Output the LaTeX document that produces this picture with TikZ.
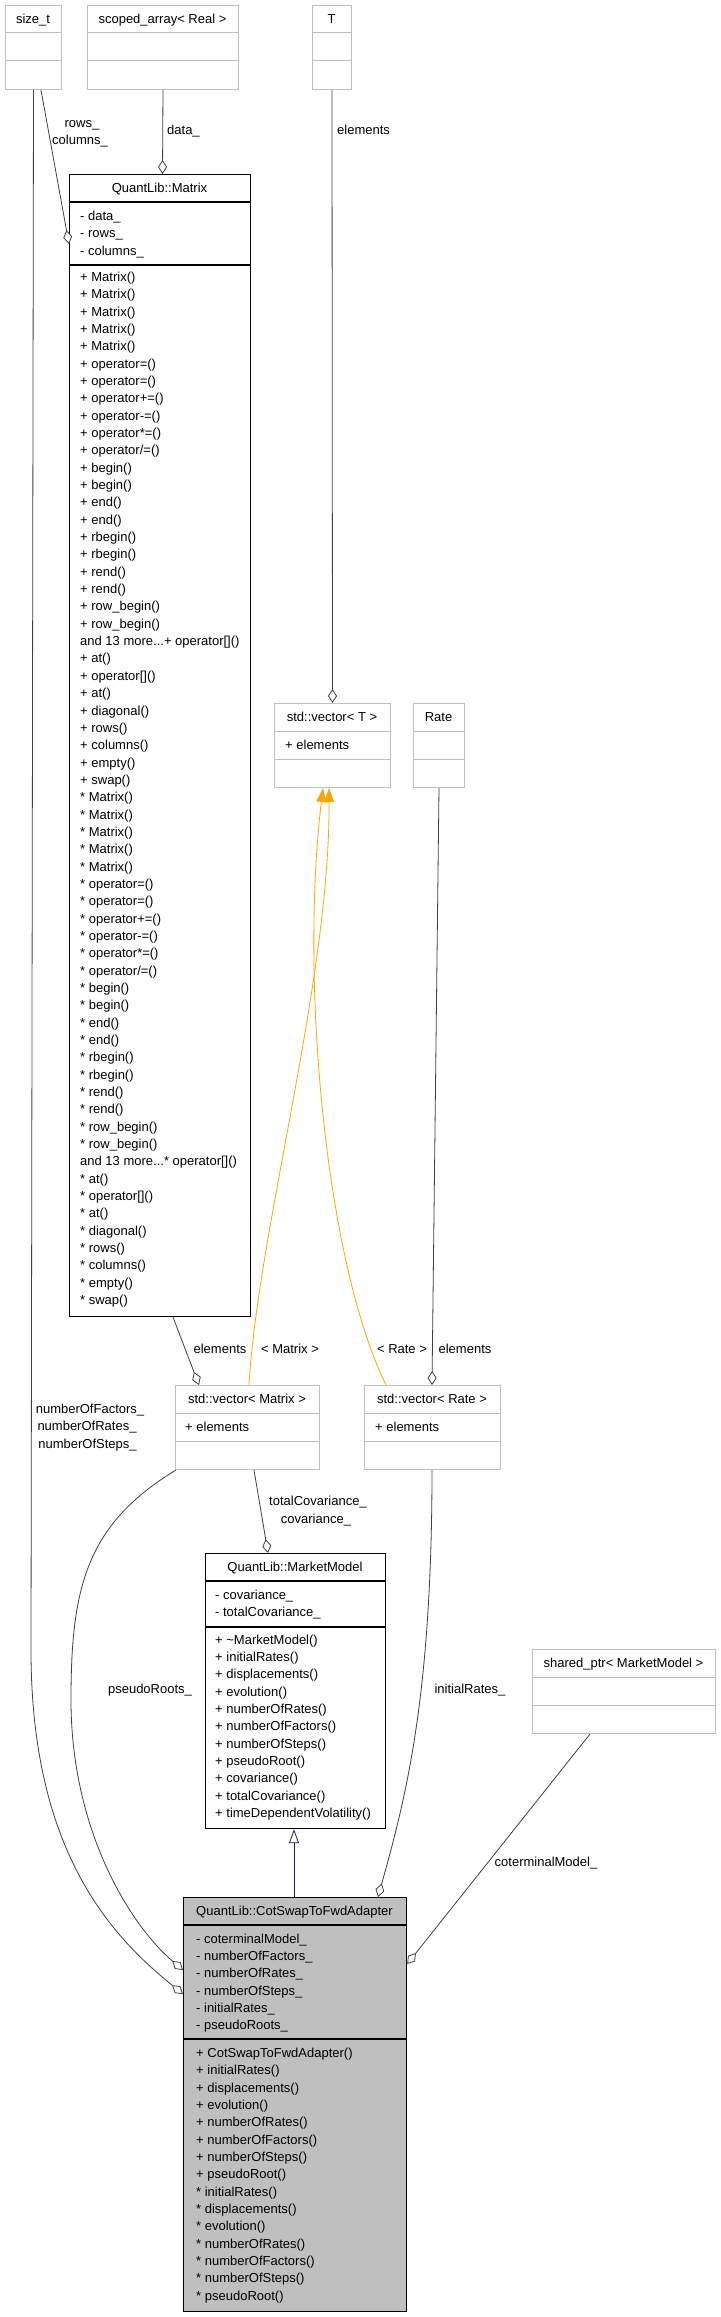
\documentclass[tikz,border=0pt]{standalone}
\usepackage{fontspec}
\setmainfont{Liberation Sans}
\usetikzlibrary{arrows.meta,calc}
\definecolor{boxgray}{RGB}{191,191,191}
\definecolor{edgegray}{RGB}{64,64,64}
\definecolor{tmplorange}{RGB}{255,165,0}
\definecolor{navy}{RGB}{25,25,112}
\definecolor{cotfill}{RGB}{191,191,191}
\newcommand\dfont{\fontsize{13}{17.34}\selectfont}
\newcommand\tdots{.\kern0pt.\kern0pt.}
\newcommand\txtlines[4]{\foreach [count=\i] \lbl in {#4} {\node[txt] (#1-\i) at (#2,{#3+(\i-1)*17.34}) {\lbl};}}
\newcommand\sepline[3]{\draw[#3] ($(#1.north west)+(0,#2)$) -- ($(#1.north east)+(0,#2)$);}
\tikzset{
  graybox/.style={draw=boxgray, line width=1pt, fill=white, inner sep=0, anchor=north west},
  blackbox/.style={draw=black, line width=1.2pt, fill=white, inner sep=0, anchor=north west},
  graysep/.style={draw=boxgray, line width=1pt},
  blacksep/.style={draw=black, line width=1.2pt},
  txt/.style={inner sep=0, anchor=base west, font=\dfont},
  ctxt/.style={inner sep=0, anchor=base, font=\dfont},
  agg/.style={draw=edgegray, line width=0.8pt, -{Diamond[length=14pt,width=9pt,fill=white]}},
  tmpl/.style={draw=tmplorange, line width=0.8pt, -{Triangle[length=14pt,width=10pt]}},
  inh/.style={draw=navy, line width=0.8pt, -{Triangle[length=14pt,width=10pt,fill=white]}},
}
\begin{document}
\begin{tikzpicture}[x=1pt,y=-1pt]
\fill[white] (0,0) rectangle (720,2317);
\useasboundingbox (0,0) rectangle (720,2317);

% ---------- boxes ----------
\node[graybox, minimum width=56pt, minimum height=84pt] (sizet) at (5,5) {};
\sepline{sizet}{28}{graysep}\sepline{sizet}{56}{graysep}
\node[ctxt] (sizet-h) at (33,23.5) {size\_t};

\node[graybox, minimum width=151pt, minimum height=84pt] (scoped) at (87,5) {};
\sepline{scoped}{28}{graysep}\sepline{scoped}{56}{graysep}
\node[ctxt] (scoped-h) at (162.5,23.5) {scoped\_array< Real >};

\node[graybox, minimum width=39pt, minimum height=84pt] (tbox) at (312,5) {};
\sepline{tbox}{28}{graysep}\sepline{tbox}{56}{graysep}
\node[ctxt] (tbox-h) at (331.5,23.5) {T};

\node[blackbox, minimum width=181pt, minimum height=1142pt] (matrix) at (69,174) {};
\sepline{matrix}{28}{blacksep}\sepline{matrix}{91}{blacksep}
\node[ctxt] (matrix-h) at (159.5,192.5) {QuantLib::Matrix};
\txtlines{ma}{80}{220.5}{- data\_, - rows\_, - columns\_}
\txtlines{mm}{80}{281.5}{+ Matrix(), + Matrix(), + Matrix(), + Matrix(), + Matrix(),
 + operator=(), + operator=(), + operator+=(), + operator-=(), + operator*=(), + operator/=(),
 + begin(), + begin(), + end(), + end(), + rbegin(), + rbegin(), + rend(), + rend(),
 + row\_begin(), + row\_begin(), and 13 more\tdots+ operator[](), + at(), + operator[](), + at(),
 + diagonal(), + rows(), + columns(), + empty(), + swap(),
 * Matrix(), * Matrix(), * Matrix(), * Matrix(), * Matrix(),
 * operator=(), * operator=(), * operator+=(), * operator-=(), * operator*=(), * operator/=(),
 * begin(), * begin(), * end(), * end(), * rbegin(), * rbegin(), * rend(), * rend(),
 * row\_begin(), * row\_begin(), and 13 more\tdots* operator[](), * at(), * operator[](), * at(),
 * diagonal(), * rows(), * columns(), * empty(), * swap()}

\node[graybox, minimum width=116pt, minimum height=84pt] (vect) at (274,703) {};
\sepline{vect}{28}{graysep}\sepline{vect}{56}{graysep}
\node[ctxt] (vect-h) at (332,721.5) {std::vector< T >};
\node[txt] (vect-a) at (285,749.5) {+ elements};

\node[graybox, minimum width=51pt, minimum height=84pt] (rate) at (413,703) {};
\sepline{rate}{28}{graysep}\sepline{rate}{56}{graysep}
\node[ctxt] (rate-h) at (438.5,721.5) {Rate};

\node[graybox, minimum width=144pt, minimum height=84pt] (vecm) at (175,1385) {};
\sepline{vecm}{28}{graysep}\sepline{vecm}{56}{graysep}
\node[ctxt] (vecm-h) at (247,1403.5) {std::vector< Matrix >};
\node[txt] (vecm-a) at (185,1431.5) {+ elements};

\node[graybox, minimum width=136pt, minimum height=84pt] (vecr) at (364,1385) {};
\sepline{vecr}{28}{graysep}\sepline{vecr}{56}{graysep}
\node[ctxt] (vecr-h) at (432,1403.5) {std::vector< Rate >};
\node[txt] (vecr-a) at (375,1431.5) {+ elements};

\node[blackbox, minimum width=180pt, minimum height=275pt] (mmod) at (205,1553) {};
\sepline{mmod}{28}{blacksep}\sepline{mmod}{74}{blacksep}
\node[ctxt] (mmod-h) at (295,1571.5) {QuantLib::MarketModel};
\txtlines{mma}{215}{1599.5}{- covariance\_, - totalCovariance\_}
\txtlines{mmm}{215}{1644}{+ \textasciitilde MarketModel(), + initialRates(), + displacements(), + evolution(),
 + numberOfRates(), + numberOfFactors(), + numberOfSteps(), + pseudoRoot(), + covariance(),
 + totalCovariance(), + timeDependentVolatility()}

\node[graybox, minimum width=183pt, minimum height=84pt] (shared) at (532,1649) {};
\sepline{shared}{28}{graysep}\sepline{shared}{56}{graysep}
\node[ctxt] (shared-h) at (623.5,1667.5) {shared\_ptr< MarketModel >};

\node[blackbox, fill=cotfill, minimum width=223pt, minimum height=414pt] (cot) at (183,1897) {};
\sepline{cot}{28}{blacksep}\sepline{cot}{142}{blacksep}
\node[ctxt] (cot-h) at (294.5,1915.5) {QuantLib::CotSwapToFwdAdapter};
\txtlines{ca}{196}{1943}{- coterminalModel\_, - numberOfFactors\_, - numberOfRates\_, - numberOfSteps\_,
 - initialRates\_, - pseudoRoots\_}
\txtlines{cm}{196}{2057.5}{+ CotSwapToFwdAdapter(), + initialRates(), + displacements(), + evolution(),
 + numberOfRates(), + numberOfFactors(), + numberOfSteps(), + pseudoRoot(),
 * initialRates(), * displacements(), * evolution(), * numberOfRates(), * numberOfFactors(),
 * numberOfSteps(), * pseudoRoot()}

% ---------- connectors ----------
\draw[agg] ($(sizet.south west)+(36,0)$) -- ($(matrix.north west)+(0,70)$);
\node[ctxt] (l-rows) at (82,127.5) {rows\_};
\node[ctxt] (l-cols) at (80,144.5) {columns\_};

\draw[agg] (scoped.south) -- ($(matrix.north west)+(93.5,0)$);
\node[txt] (l-data) at (167,134.5) {data\_};

\draw[agg] (tbox.south) -- (vect.north);
\node[txt] (l-elt) at (337,134.5) {elements};

\draw[agg] ($(matrix.south west)+(104,0)$) -- ($(vecm.north west)+(24,0)$);
\node[ctxt] (l-elm) at (220,1353.5) {elements};

\draw[tmpl] ($(vecm.north west)+(74,0)$) .. controls (258,1230) and (330,980) .. ($(vect.south west)+(55,0)$);
\node[ctxt] (l-tm) at (290,1353.5) {< Matrix >};

\draw[tmpl] ($(vecr.north west)+(22,0)$) .. controls (325,1260) and (300,980) .. ($(vect.south west)+(49,0)$);
\node[ctxt] (l-tr) at (402,1353.5) {< Rate >};

\draw[agg] (rate.south) -- ($(vecr.north west)+(68,0)$);
\node[ctxt] (l-elr) at (465,1353.5) {elements};

\draw[agg] ($(vecm.south west)+(79,0)$) -- ($(mmod.north west)+(63,0)$);
\node[ctxt] (l-tc) at (318,1505.5) {totalCovariance\_};
\node[ctxt] (l-c) at (316,1523) {covariance\_};

\draw[agg] (sizet.south) -- (31,1650) .. controls (31,1850) and (110,1935) .. ($(cot.north west)+(0,97)$);
\node[ctxt] (l-nf) at (90,1413.5) {numberOfFactors\_};
\node[ctxt] (l-nr) at (87,1430.8) {numberOfRates\_};
\node[ctxt] (l-ns) at (87.5,1448.2) {numberOfSteps\_};

\draw[agg] ($(vecm.south west)+(1,0)$) .. controls (85,1525) and (71,1590) .. (71,1700) .. controls (71,1830) and (130,1925) .. ($(cot.north west)+(0,73)$);
\node[ctxt] (l-pr) at (150,1693.5) {pseudoRoots\_};

\draw[agg] ($(vecr.south west)+(68,0)$) .. controls (432,1700) and (405,1800) .. ($(cot.north west)+(195,0)$);
\node[ctxt] (l-ir) at (470,1693.5) {initialRates\_};

\draw[agg] ($(shared.south west)+(58,0)$) -- ($(cot.north east)+(0,67)$);
\node[ctxt] (l-cm) at (546,1866.5) {coterminalModel\_};

\draw[inh] ($(cot.north west)+(111,0)$) -- ($(mmod.south west)+(89,0)$);
\end{tikzpicture}
\end{document}
